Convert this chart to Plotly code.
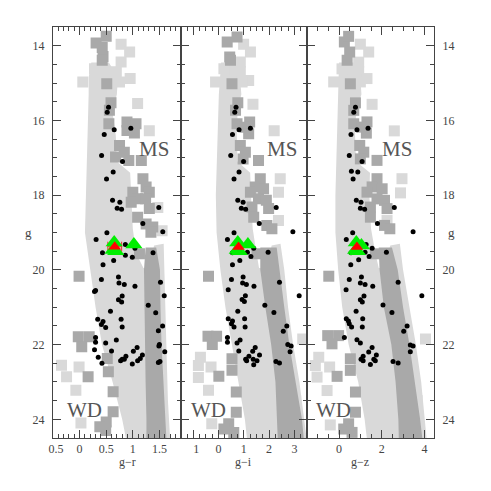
import plotly.graph_objects as go

# ---------------- shared ----------------
G_RANGE = [24.5, 13.5]
Y_TICKS = [14, 16, 18, 20, 22, 24]
Y_TICKTEXT = ["14", "16", "18", "20", "22", "24"]
PANEL_TITLES = ["g\u2212r", "g\u2212i", "g\u2212z"]
X_RANGES = [[-0.5, 1.9], [-1.5, 3.5], [-1.5, 4.45]]
X_TICKVALS = [[-0.5, 0, 0.5, 1, 1.5], [-1, 0, 1, 2, 3], [0, 2, 4]]
X_TICKTEXT = [["\u20070.5", "0", "0.5", "1", "1.5"], ["\u20071", "0", "1", "2", "3"], ["0", "2", "4"]]
X_MINOR = [0.1, 0.25, 0.5]

# ---------------- panel 1 : g-r ----------------
p1_band_left_g = [14.45, 14.85, 15.3, 16.2, 17.1, 18.0, 19.0, 20.0, 21.0, 22.0, 23.0, 24.0, 24.5]
p1_band_left_c = [0.22, 0.17, 0.17, 0.15, 0.13, 0.11, 0.10, 0.2, 0.3, 0.42, 0.62, 0.8, 0.87]
p1_band_right_g = [14.45, 14.85, 15.3, 15.8, 16.4, 17.1, 17.4, 18.0, 18.9, 19.55, 19.95, 19.95, 19.35, 19.3, 20.5, 22.0, 23.5, 24.5]
p1_band_right_c = [0.55, 0.72, 0.70, 0.62, 0.68, 0.70, 0.95, 0.97, 1.0, 1.06, 1.2, 1.3, 1.4, 1.58, 1.6, 1.63, 1.66, 1.70]
p1_dark_g = [19.4, 20.0, 21.0, 22.0, 23.0, 24.0, 24.5]
p1_dark_left_c = [1.24, 1.21, 1.22, 1.225, 1.24, 1.256, 1.256]
p1_dark_right_c = [1.44, 1.51, 1.52, 1.54, 1.57, 1.61, 1.63]
p1_dsq_c = [0.5, 0.31, 0.425, 0.44, 0.425, 0.51, 0.59, 0.56, 0.55, 0.89, 1.06, 0.89, 1.03, 0.75, 0.84, 0.925,
            0.675, 1.16, 1.19, 1.25, 1.0, 1.31, 1.09, 1.24, 0.97, 1.31, 1.09, 1.25, 1.375, 1.34, 1.125,
            -0.01, -0.025, 0.18, 0.04, 0.52, 0.54, 0.16, 0.63, 0.63, 0.5, 0.38, 0.49]
p1_dsq_g = [13.75, 13.93, 14.05, 14.29, 14.39, 15.02, 15.53, 15.73, 16.09, 16.04, 16.09, 16.27, 16.34, 16.67, 16.85, 17.07,
            16.98, 17.07, 17.56, 17.78, 17.92, 17.92, 18.1, 18.1, 18.19, 18.36, 18.59, 18.77, 18.85, 18.99, 19.57,
            20.17, 21.79, 21.79, 22.06, 22.37, 22.73, 22.86, 23.26, 23.8, 24.07, 24.2, 24.3]
p1_lsq_c = [0.78, 0.94, 0.78, 0.69, 0.28, 0.95, 0.75, 0.06, 1.09, 1.31, 1.47, 1.55,
            -0.34, -0.245, -0.01, -0.07, 0.025]
p1_lsq_g = [13.96, 14.17, 14.44, 14.7, 14.62, 14.88, 14.97, 14.97, 15.55, 16.28, 18.33, 18.95,
            22.55, 22.86, 22.6, 23.22, 24.1]
p1_dot_c = [0.544, 0.519, 0.65, 0.963, 0.463, 0.413, 0.806, 0.631, 0.506, 0.619, 0.756, 0.706, 0.788, 1.488, 1.188,
            1.563, 0.513, 0.31, 0.43, 0.86, 0.86, 0.99, 1.04, 1.38, 0.64, 0.44, 0.73, 0.41, 0.74, 0.84, 1.04, 1.52,
            0.30, 0.28, 0.80, 0.73, 0.79, 1.59, 1.29, 0.58, 1.43, 0.34, 0.78, 0.44, 0.41, 0.49, 0.80, 1.56, 1.48,
            0.30, 0.69, 0.49, 0.30, 1.50, 1.49, 1.08, 0.60, 0.28, 1.01, 1.60, 0.87, 1.18, 0.80, 0.84, 0.77, 0.35,
            0.42, 1.09, 1.14, 1.51, 1.48, 0.99]
p1_dot_g = [15.65, 15.78, 16.25, 16.21, 16.38, 16.94, 17.10, 17.38, 17.57, 18.14, 18.19, 18.35, 18.38, 18.33, 18.76,
            18.98, 19.01, 19.19, 19.54, 19.32, 19.61, 19.66, 19.42, 19.54, 19.75, 19.86, 20.19, 20.26, 20.35, 20.39,
            20.44, 20.33, 20.55, 20.58, 20.70, 20.80, 20.86, 20.69, 20.95, 21.11, 21.15, 21.32, 21.32, 21.38, 21.46,
            21.54, 21.53, 21.50, 21.63, 21.81, 21.88, 21.96, 21.94, 22.00, 22.04, 22.08, 22.17, 22.14, 22.18, 22.19,
            22.31, 22.28, 22.39, 22.39, 22.43, 22.34, 22.50, 22.43, 22.37, 22.45, 22.48, 22.52]
p1_green_c = [0.65, 0.63, 0.68, 1.02]
p1_green_g = [19.27, 19.47, 19.5, 19.32]
p1_red_c = [0.66]
p1_red_g = [19.38]
p1_red_err = [0.13]

# ---------------- panel 2 : g-i ----------------
p2_band_left_g = [14.45, 14.85, 15.3, 16.2, 17.1, 18.0, 19.0, 20.0, 21.0, 22.0, 23.0, 24.0, 24.5]
p2_band_left_c = [0.1, 0.05, 0.01, -0.03, -0.08, -0.11, -0.08, 0.07, 0.27, 0.52, 0.80, 1.04, 1.12]
p2_band_right_g = [14.45, 14.85, 15.3, 15.8, 16.4, 17.1, 17.4, 18.0, 18.9, 19.55, 19.95, 19.95, 19.35, 19.3, 20.0, 21.0, 22.0, 23.0, 24.5]
p2_band_right_c = [0.67, 0.85, 0.9, 0.75, 0.72, 0.75, 1.25, 1.28, 1.35, 1.5, 1.6, 1.9, 2.1, 2.45, 2.6, 2.75, 2.95, 3.2, 3.48]
p2_dark_g = [19.4, 20.0, 21.0, 22.0, 23.0, 24.0, 24.5]
p2_dark_left_c = [1.65, 1.65, 1.85, 2.08, 2.25, 2.32, 2.34]
p2_dark_right_c = [2.3, 2.42, 2.6, 2.8, 3.05, 3.3, 3.37]
p2_dsq_c = [0.34, 0.73, 0.44, 0.47, 0.53, 0.76, 0.67, 0.73, 1.23, 1.06, 1.19, 0.86, 1.06, 0.97, 1.58, 1.65, 1.45,
            1.78, 1.26, 1.58, 1.89, 1.32, 1.98, 1.39, 1.91, 2.11, 1.52,
            -0.4, -0.42, -0.08, -0.25, 0.53, 0.53, 0.01, 0.7, 0.7, 0.4, 0.21, 0.6]
p2_dsq_g = [13.9, 13.77, 14.3, 14.39, 15.02, 15.53, 15.73, 16.09, 16.04, 16.18, 16.36, 16.67, 16.85, 17.03, 17.07,
            17.56, 17.78, 17.83, 17.92, 18.1, 18.14, 18.32, 18.36, 18.59, 18.81, 18.9, 19.57,
            20.17, 21.78, 21.78, 22.0, 22.38, 22.69, 22.85, 23.27, 23.81, 24.12, 24.26, 24.35]
p2_lsq_c = [0.99, 1.26, 0.86, 0.86, 0.21, 1.19, 0.93, -0.12, 1.36, 2.2, 2.44, 2.37, 2.37,
            -0.72, -0.8, -0.3, -0.8, -0.4, -0.27, 3.33, 3.05]
p2_lsq_g = [13.96, 14.17, 14.44, 14.7, 14.62, 14.93, 14.97, 14.97, 15.57, 16.28, 17.56, 17.92, 18.68,
            22.34, 22.56, 22.6, 22.88, 23.22, 24.12, 21.85, 23.5]
p2_dot_c = [0.69, 0.64, 0.81, 1.26, 0.55, 0.48, 0.99, 0.81, 0.61, 0.76, 0.97, 0.90, 1.07, 2.28, 1.61, 2.94, 0.61,
            0.35, 0.55, 1.12, 1.14, 1.28, 1.39, 1.96, 0.84, 0.55, 0.97, 0.51, 0.95, 1.10, 1.40, 2.41, 0.38, 1.06,
            0.93, 1.02, 3.19, 1.83, 0.76, 2.19, 0.38, 1.03, 0.55, 0.51, 0.61, 1.05, 2.70, 2.56, 0.35, 0.85, 0.73,
            0.35, 2.74, 2.87, 1.45, 0.80, 2.83, 1.35, 1.20, 1.62, 1.07, 1.11, 1.37, 1.52, 2.27, 2.41, 1.39]
p2_dot_g = [15.65, 15.78, 16.25, 16.21, 16.38, 16.94, 17.10, 17.38, 17.57, 18.14, 18.19, 18.35, 18.38, 18.33, 18.76,
            18.98, 19.01, 19.19, 19.54, 19.32, 19.53, 19.64, 19.42, 19.53, 19.75, 19.86, 20.19, 20.26, 20.35, 20.39,
            20.44, 20.33, 20.53, 20.69, 20.79, 20.85, 20.69, 20.95, 21.11, 21.14, 21.31, 21.31, 21.37, 21.44, 21.53,
            21.53, 21.50, 21.64, 21.81, 21.88, 21.96, 21.94, 22.00, 22.04, 22.08, 22.17, 22.19, 22.18, 22.31, 22.28,
            22.39, 22.43, 22.39, 22.43, 22.45, 22.49, 22.54]
p2_green_c = [0.76, 0.74, 0.82, 1.16]
p2_green_g = [19.27, 19.47, 19.5, 19.32]
p2_red_c = [0.79]
p2_red_g = [19.39]

# ---------------- panel 3 : g-z ----------------
p3_band_left_g = [14.45, 14.85, 15.3, 16.2, 17.1, 18.0, 19.0, 20.0, 21.0, 22.0, 23.0, 24.0, 24.5]
p3_band_left_c = [0.0, -0.02, -0.06, -0.09, -0.13, -0.17, -0.17, -0.04, 0.15, 0.45, 0.9, 1.2, 1.3]
p3_band_right_g = [14.45, 14.85, 15.3, 15.8, 16.4, 17.1, 17.4, 18.0, 18.9, 19.55, 19.95, 19.95, 19.35, 19.3, 20.0, 21.0, 22.0, 23.0, 24.5]
p3_band_right_c = [0.77, 1.0, 1.05, 0.8, 0.75, 0.8, 1.45, 1.42, 1.5, 1.7, 1.86, 2.1, 2.4, 2.85, 3.0, 3.3, 3.6, 3.85, 4.1]
p3_dark_g = [19.4, 20.0, 21.0, 22.0, 23.0, 24.0, 24.5]
p3_dark_left_c = [1.86, 1.9, 2.1, 2.45, 2.65, 2.78, 2.8]
p3_dark_right_c = [2.48, 2.75, 3.0, 3.3, 3.55, 3.8, 3.9]
p3_dsq_c = [0.25, 0.45, 0.5, 0.38, 0.53, 0.77, 0.69, 0.69, 1.31, 1.08, 1.28, 0.97, 1.16, 1.0, 1.78, 1.78, 1.55,
            2.02, 1.31, 1.78, 2.13, 1.47, 2.25, 1.47, 2.13, 2.38, 1.7,
            -0.48, -0.53, -0.02, -0.33, 0.53, 0.53, -0.09, 0.77, 0.77, 0.45, 0.22, 0.61]
p3_dsq_g = [13.9, 13.75, 14.17, 14.39, 15.02, 15.53, 15.73, 16.09, 16.04, 16.18, 16.34, 16.67, 16.85, 17.03, 17.07,
            17.56, 17.78, 17.83, 17.92, 18.1, 18.14, 18.32, 18.36, 18.59, 18.81, 18.9, 19.57,
            20.17, 21.76, 21.76, 21.98, 22.38, 22.69, 22.85, 23.27, 23.81, 24.12, 24.26, 24.35]
p3_lsq_c = [1.0, 1.39, 0.92, 0.92, 0.14, 1.31, 1.0, -0.25, 1.55, 2.59, 2.95, 2.88, 2.25,
            -0.95, -1.11, -0.44, -1.03, -0.56, -0.41, 4.05, 3.66]
p3_lsq_g = [13.96, 14.17, 14.44, 14.7, 14.62, 14.88, 14.97, 14.97, 15.57, 16.28, 17.56, 17.94, 18.68,
            22.34, 22.56, 22.6, 22.87, 23.23, 24.15, 21.85, 23.5]
p3_dot_c = [0.77, 0.69, 0.84, 1.36, 0.56, 0.48, 1.08, 0.58, 0.88, 0.66, 0.81, 1.03, 1.0, 1.2, 2.59, 1.8, 3.47, 0.64,
            0.34, 0.56, 1.27, 1.22, 1.41, 1.55, 2.22, 0.92, 0.55, 1.05, 0.48, 1.0, 1.22, 1.58, 2.77, 0.33, 1.17, 1.0,
            1.09, 3.88, 2.06, 0.80, 2.48, 0.34, 1.11, 0.44, 0.48, 0.59, 1.09, 3.19, 3.03, 0.25, 0.84, 1.0, 3.34, 3.47,
            1.55, 1.39, 3.34, 1.13, 1.75, 1.03, 1.13, 1.63, 1.70, 2.53, 2.77, 1.47]
p3_dot_g = [15.65, 15.78, 16.25, 16.21, 16.38, 16.94, 17.10, 17.36, 17.38, 17.57, 18.14, 18.19, 18.35, 18.38, 18.33,
            18.76, 18.98, 19.01, 19.19, 19.54, 19.32, 19.53, 19.64, 19.42, 19.53, 19.73, 19.86, 20.19, 20.26, 20.35,
            20.39, 20.44, 20.33, 20.53, 20.70, 20.80, 20.86, 20.69, 20.94, 21.11, 21.14, 21.31, 21.31, 21.37, 21.44,
            21.53, 21.53, 21.50, 21.64, 21.81, 21.87, 21.96, 22.01, 22.04, 22.08, 22.20, 22.19, 22.31, 22.28, 22.39,
            22.43, 22.39, 22.43, 22.45, 22.49, 22.53]
p3_green_c = [0.81, 0.78, 0.86, 1.05]
p3_green_g = [19.27, 19.47, 19.5, 19.35]
p3_red_c = [0.84]
p3_red_g = [19.39]

MS_POS = [(1.39, 16.76), (2.5, 16.76), (2.72, 16.76)]
WD_POS = [(0.1, 23.74), (-0.39, 23.74), (-0.24, 23.74)]

LIGHT = "#d9d9d9"
DARK = "#a9a9a9"
FONT = "Liberation Serif"
AX = "#444444"

panels = [
    (p1_band_left_c, p1_band_left_g, p1_band_right_c, p1_band_right_g, p1_dark_g, p1_dark_left_c, p1_dark_right_c,
     p1_lsq_c, p1_lsq_g, p1_dsq_c, p1_dsq_g, p1_dot_c, p1_dot_g, p1_green_c, p1_green_g, p1_red_c, p1_red_g),
    (p2_band_left_c, p2_band_left_g, p2_band_right_c, p2_band_right_g, p2_dark_g, p2_dark_left_c, p2_dark_right_c,
     p2_lsq_c, p2_lsq_g, p2_dsq_c, p2_dsq_g, p2_dot_c, p2_dot_g, p2_green_c, p2_green_g, p2_red_c, p2_red_g),
    (p3_band_left_c, p3_band_left_g, p3_band_right_c, p3_band_right_g, p3_dark_g, p3_dark_left_c, p3_dark_right_c,
     p3_lsq_c, p3_lsq_g, p3_dsq_c, p3_dsq_g, p3_dot_c, p3_dot_g, p3_green_c, p3_green_g, p3_red_c, p3_red_g),
]

fig = go.Figure()
for i, (blc, blg, brc, brg, dg, dlc, drc, lsc, lsg, dsc, dsg, dc, dgm, gc, gg, rc, rg) in enumerate(panels):
    xa = "x" if i == 0 else f"x{i+1}"
    ya = "y" if i == 0 else f"y{i+1}"
    fig.add_trace(go.Scatter(x=blc + brc[::-1], y=blg + brg[::-1], mode="lines", fill="toself",
                             fillcolor=LIGHT, line=dict(width=0, color=LIGHT), xaxis=xa, yaxis=ya,
                             hoverinfo="skip"))
    fig.add_trace(go.Scatter(x=lsc, y=lsg, mode="markers", xaxis=xa, yaxis=ya,
                             marker=dict(symbol="square", size=11, color=LIGHT, line=dict(width=0))))
    fig.add_trace(go.Scatter(x=dlc + drc[::-1], y=dg + dg[::-1], mode="lines", fill="toself",
                             fillcolor=DARK, line=dict(width=0, color=DARK), xaxis=xa, yaxis=ya,
                             hoverinfo="skip"))
    fig.add_trace(go.Scatter(x=dsc, y=dsg, mode="markers", xaxis=xa, yaxis=ya,
                             marker=dict(symbol="square", size=11, color=DARK, line=dict(width=0))))
    fig.add_trace(go.Scatter(x=dc, y=dgm, mode="markers", xaxis=xa, yaxis=ya,
                             marker=dict(symbol="circle", size=5, color="black", line=dict(width=0))))
    if i == 0:
        fig.add_trace(go.Scatter(x=p1_red_c, y=p1_red_g, mode="markers", xaxis=xa, yaxis=ya,
                                 marker=dict(size=1, color="rgba(0,0,0,0)"),
                                 error_x=dict(type="data", array=p1_red_err, color="#ee3333",
                                              thickness=1, width=5)))
    fig.add_trace(go.Scatter(x=gc, y=gg, mode="markers", xaxis=xa, yaxis=ya,
                             marker=dict(symbol="triangle-up", size=15, color="#00ee00", line=dict(width=0))))
    fig.add_trace(go.Scatter(x=rc, y=rg, mode="markers", xaxis=xa, yaxis=ya,
                             marker=dict(symbol="triangle-up", size=11, color="#ff0000", line=dict(width=0))))

domains = [[0, 0.3352], [0.3352, 0.6667], [0.6667, 1.0]]
tickfont = dict(family=FONT, size=12, color="#444444")
layout = dict(width=491, height=491, margin=dict(l=53, r=57, t=27, b=53),
              paper_bgcolor="white", plot_bgcolor="white", showlegend=False)
for i in range(3):
    xk = "xaxis" if i == 0 else f"xaxis{i+1}"
    yk = "yaxis" if i == 0 else f"yaxis{i+1}"
    yref = "y" if i == 0 else f"y{i+1}"
    xref = "x" if i == 0 else f"x{i+1}"
    layout[xk] = dict(domain=domains[i], range=X_RANGES[i], anchor=yref, showgrid=False, zeroline=False,
                      showline=True, linecolor=AX, linewidth=1, mirror="ticks", ticks="inside",
                      ticklen=8, tickcolor=AX, tickmode="array", tickvals=X_TICKVALS[i],
                      ticktext=X_TICKTEXT[i], tickfont=tickfont, ticklabelstandoff=0,
                      minor=dict(ticks="inside", ticklen=4, tickcolor=AX, tickmode="linear",
                                 tick0=0, dtick=X_MINOR[i], showgrid=False))
    layout[yk] = dict(domain=[0, 1], range=G_RANGE, anchor=xref, showgrid=False, zeroline=False,
                      showline=True, linecolor=AX, linewidth=1, mirror="ticks", ticks="inside",
                      ticklen=8, tickcolor=AX, tickmode="array", tickvals=Y_TICKS, ticktext=Y_TICKTEXT,
                      tickfont=tickfont, showticklabels=(i != 1), side=("right" if i == 2 else "left"),
                      ticklabelstandoff=5,
                      minor=dict(ticks="inside", ticklen=4, tickcolor=AX, tickmode="linear",
                                 tick0=0, dtick=0.5, showgrid=False))
    if i > 0:
        layout[yk]["matches"] = "y"
fig.update_layout(**layout)

ann = []
for i in range(3):
    xref = "x" if i == 0 else f"x{i+1}"
    yref = "y" if i == 0 else f"y{i+1}"
    ann.append(dict(x=MS_POS[i][0], y=MS_POS[i][1], xref=xref, yref=yref, text="MS", showarrow=False,
                    font=dict(family=FONT, size=21, color="#555555")))
    ann.append(dict(x=WD_POS[i][0], y=WD_POS[i][1], xref=xref, yref=yref, text="WD", showarrow=False,
                    font=dict(family=FONT, size=21, color="#555555")))
    ann.append(dict(x=(domains[i][0] + domains[i][1]) / 2, y=-0.058, xref="paper", yref="paper",
                    yanchor="middle", text=PANEL_TITLES[i], showarrow=False,
                    font=dict(family=FONT, size=12, color="#444444")))
ann.append(dict(x=-0.079, y=0.501, xref="paper", yref="paper", text="g", showarrow=False,
                font=dict(family=FONT, size=13, color="#444444")))
ann.append(dict(x=1.060, y=0.501, xref="paper", yref="paper", text="g", showarrow=False,
                font=dict(family=FONT, size=13, color="#444444")))
fig.update_layout(annotations=ann)

fig.write_html("out.html", config={"displayModeBar": False},
               post_script="document.body.style.margin='0px';")
